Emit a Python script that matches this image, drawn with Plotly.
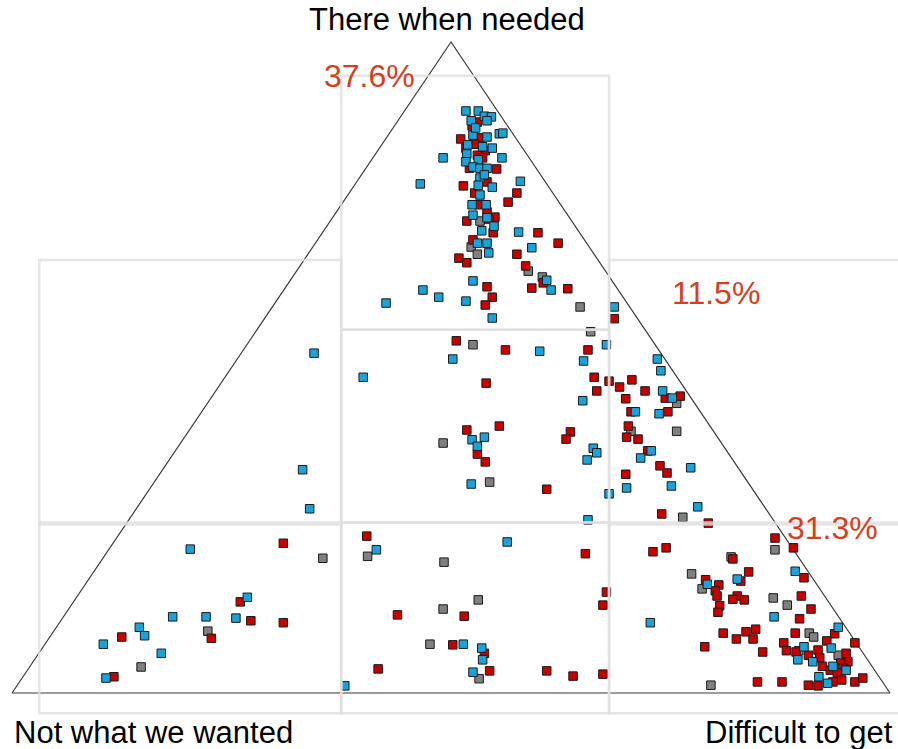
import plotly.graph_objects as go

# ---- data (x: 0 = "Not what we wanted" corner, 100 = "Difficult to get" corner; y: 100 = "There when needed") ----
blue_x = [51.7, 53.1, 53.8, 54.6, 54.1, 52.3, 55.5, 55.9, 52.5, 54.1, 51.9, 53.6, 54.7, 49.1, 51.8, 51.7,
          55.8, 53.1, 52.5, 53.3, 54.1, 46.5, 57.9, 53.3, 53.1, 54.7, 53.3, 52.4, 54.0, 52.5, 54.1, 54.9,
          53.5, 57.7, 59.2, 53.0, 54.1, 54.3, 60.9, 61.4, 52.5, 46.8, 48.6, 51.7, 42.6, 54.7, 68.6, 52.8, 53.8,
          67.7, 60.1, 50.2, 65.1, 40.0, 65.0, 53.8, 52.4, 53.0, 66.2, 66.6, 65.5, 52.3, 68.0, 65.6, 73.5,
          73.9, 74.1, 75.2, 71.0, 73.7, 72.8, 71.6, 77.3, 70.0, 75.1, 78.1,
          34.4, 33.1, 33.9, 20.3, 26.8, 18.3, 22.1, 25.5, 14.5, 15.1, 10.4, 17.0, 10.7, 37.9,
          41.5, 56.4, 51.4, 53.5, 53.6, 52.5,
          72.7, 79.2, 82.6, 89.2, 86.8, 94.1, 90.2, 93.3, 89.5, 91.2, 93.5, 95.0, 91.9, 92.9]
blue_y = [89.4, 89.4, 88.6, 88.5, 87.9, 87.9, 85.9, 86.0, 85.7, 85.4, 84.2, 83.9, 83.7, 82.2, 82.8, 81.6,
          82.2, 81.9, 80.8, 80.6, 80.6, 78.2, 78.6, 79.1, 78.0, 77.7, 76.5, 75.0, 75.0, 73.4, 73.0, 71.7,
          71.0, 70.8, 68.4, 69.1, 69.1, 67.6, 63.4, 61.9, 63.3, 61.9, 60.8, 60.2, 59.9, 57.6, 59.3, 86.8, 79.6,
          53.5, 52.5, 51.3, 51.0, 48.5, 44.9, 39.3, 38.9, 37.9, 37.6, 36.9, 35.8, 32.1, 30.6, 26.6, 51.3,
          49.5, 46.4, 45.3, 43.2, 42.9, 37.2, 36.1, 34.6, 31.5, 31.8, 28.6,
          52.2, 34.3, 28.3, 22.1, 14.7, 11.7, 11.7, 11.5, 10.1, 8.8, 7.5, 6.1, 2.3, 1.1,
          22.0, 23.2, 7.5, 6.9, 5.1, 3.2,
          10.8, 16.7, 17.5, 18.7, 11.7, 10.1, 7.1, 6.9, 5.1, 4.8, 4.1, 3.5, 2.5, 1.5]

red_x = [53.0, 52.4, 51.1, 53.2, 52.7, 51.7, 53.9, 53.0, 53.6, 52.1, 55.2, 51.4, 54.1, 52.7, 57.5, 56.5,
         53.1, 54.1, 55.0, 51.8, 54.3, 54.8, 59.9, 62.2, 57.5, 52.5, 50.9, 51.8, 58.5, 60.5, 59.2, 63.3,
         54.1, 54.7, 53.9, 68.6,
         50.6, 56.2, 65.6, 54.0, 66.3, 68.0, 69.2, 66.6, 51.8, 55.5, 53.0, 53.9, 63.6, 63.1, 60.9, 70.6,
         72.1, 74.4, 76.1, 69.9, 70.5, 74.7, 70.2, 70.0, 71.3, 72.4, 73.8, 74.6, 69.9, 74.0, 79.3,
         30.9, 26.0, 27.2, 30.9, 22.7, 12.5, 11.6,
         40.4, 65.3, 67.7, 67.3, 43.9, 51.5, 50.2, 53.8, 41.7, 54.4, 60.9, 63.9, 67.3,
         86.9, 89.0, 73.0, 74.5, 82.1, 83.9, 83.0, 79.0, 80.5, 80.1, 80.3, 82.6, 83.4, 82.1, 80.6, 80.4,
         90.2, 89.9, 91.0, 89.7, 81.0, 82.5, 83.6, 84.7, 84.4, 78.9, 85.5, 93.7, 92.8, 96.0, 87.9, 88.2,
         89.3, 90.7, 91.8, 92.0, 95.0, 95.2, 94.4, 92.3, 94.6, 93.2, 94.0, 94.5, 93.5, 96.0, 96.9, 91.8,
         90.7, 84.9, 87.7, 89.2]
red_y = [87.7, 87.1, 85.1, 85.3, 84.3, 83.7, 83.3, 82.6, 82.2, 80.6, 80.5, 77.9, 78.5, 76.8, 76.8, 75.4,
         75.0, 73.9, 73.1, 72.5, 72.8, 70.7, 70.7, 69.1, 67.4, 69.6, 66.8, 66.1, 65.6, 63.0, 62.2, 62.1,
         62.4, 60.8, 59.6, 57.5,
         54.1, 52.7, 52.7, 47.6, 48.5, 47.9, 47.0, 46.4, 40.4, 41.0, 36.7, 35.5, 40.1, 39.0, 31.3, 48.1,
         46.4, 45.3, 45.6, 45.2, 43.2, 43.2, 41.0, 39.3, 39.0, 37.2, 34.9, 33.8, 33.6, 27.5, 26.1,
         23.0, 14.0, 11.1, 10.8, 8.4, 8.6, 2.5,
         24.1, 21.4, 15.5, 13.5, 12.0, 11.8, 7.4, 6.1, 3.7, 3.4, 3.4, 2.6, 2.9,
         23.8, 22.3, 21.7, 22.3, 20.6, 18.6, 17.2, 17.4, 16.6, 15.7, 14.9, 14.9, 14.3, 14.4, 13.4, 12.4,
         17.7, 14.9, 12.9, 11.4, 9.2, 8.3, 9.4, 9.8, 8.3, 7.1, 6.3, 9.1, 8.0, 7.7, 7.7, 6.5,
         6.3, 5.8, 6.6, 5.4, 6.1, 4.8, 4.6, 4.1, 3.8, 3.5, 3.1, 2.0, 1.7, 1.7, 2.3, 1.1,
         1.2, 1.7, 1.7, 9.2]

gray_x = [53.3, 52.3, 53.0, 58.8, 60.4, 64.7, 65.9, 52.5, 49.1, 54.4, 75.7, 70.5, 75.7, 76.4,
          35.4, 22.3, 14.7, 40.5, 49.2, 53.1, 49.1, 47.6, 53.2,
          81.9, 77.4, 78.6, 86.9, 86.7, 88.3, 90.8, 91.3, 89.6, 94.1, 79.6]
gray_y = [72.5, 68.5, 67.4, 64.8, 63.9, 59.3, 55.5, 53.5, 38.4, 32.4, 44.5, 40.2, 40.2, 27.0,
          20.7, 9.5, 4.0, 21.0, 20.1, 14.3, 12.9, 7.5, 2.2,
          20.9, 18.3, 16.0, 22.0, 14.6, 13.5, 9.2, 8.6, 6.5, 5.8, 1.2]

corner_labels = ["There when needed", "Not what we wanted", "Difficult to get"]
zone_labels = ["37.6%", "11.5%", "31.3%"]

# zone grid boundaries
col_edges = [3.1, 37.5, 68.0, 102.0]
row_edges = [-3.1, 26.2, 55.8, 66.5, 94.8]

fig = go.Figure()

tri_x = [0, 100, 50, 0]
tri_y = [0, 0, 100, 0]
fig.add_trace(go.Scatter(x=tri_x, y=tri_y, mode="lines",
                         line=dict(color="#3a3a3a", width=1.2), hoverinfo="skip", showlegend=False))

mk = dict(symbol="square", size=8.5, line=dict(color="#1a1a1a", width=1))
fig.add_trace(go.Scatter(x=gray_x, y=gray_y, mode="markers",
                         marker=dict(color="#808080", **mk), showlegend=False))
fig.add_trace(go.Scatter(x=red_x, y=red_y, mode="markers",
                         marker=dict(color="#C80000", **mk), showlegend=False))
fig.add_trace(go.Scatter(x=blue_x, y=blue_y, mode="markers",
                         marker=dict(color="#1AA3DB", **mk), showlegend=False))

grid_line = dict(color="rgba(222,222,222,0.8)", width=2.5)
rects = [
    (col_edges[1], col_edges[2], row_edges[2], row_edges[4]),  # top
    (col_edges[1], col_edges[2], row_edges[1], row_edges[2]),  # center
    (col_edges[0], col_edges[1], row_edges[1] - 0.3, row_edges[3]),  # left middle
    (col_edges[2], col_edges[3], row_edges[1] - 0.3, row_edges[3]),  # right middle
    (col_edges[0], col_edges[1], row_edges[0], row_edges[1]),  # bottom left
    (col_edges[1], col_edges[2], row_edges[0], row_edges[1]),  # bottom middle
    (col_edges[2], col_edges[3], row_edges[0], row_edges[1]),  # bottom right
]
for x0, x1, y0, y1 in rects:
    fig.add_shape(type="rect", x0=x0, x1=x1, y0=y0, y1=y1, xref="x", yref="y",
                  line=grid_line, fillcolor="rgba(0,0,0,0)", layer="above")

label_font = dict(family="Liberation Sans, Arial, sans-serif", size=31, color="#000000")
pct_font = dict(family="Liberation Sans, Arial, sans-serif", size=32, color="#D4401F")

fig.add_annotation(x=49.5, y=103.4, text=corner_labels[0], showarrow=False,
                   xanchor="center", yanchor="middle", font=label_font)
fig.add_annotation(x=0, y=-6.1, text=corner_labels[1], showarrow=False,
                   xanchor="left", yanchor="middle", font=label_font)
fig.add_annotation(x=100.6, y=-6.1, text=corner_labels[2], showarrow=False,
                   xanchor="right", yanchor="middle", font=label_font)

fig.add_annotation(x=40.7, y=94.8, text=zone_labels[0], showarrow=False,
                   xanchor="center", yanchor="middle", font=pct_font)
fig.add_annotation(x=80.2, y=61.4, text=zone_labels[1], showarrow=False,
                   xanchor="center", yanchor="middle", font=pct_font)
fig.add_annotation(x=93.4, y=25.3, text=zone_labels[2], showarrow=False,
                   xanchor="center", yanchor="middle", font=pct_font)

fig.update_xaxes(range=[-1.37, 100.91], visible=False, showgrid=False, zeroline=False)
fig.update_yaxes(range=[-8.60, 106.45], visible=False, showgrid=False, zeroline=False)
fig.update_layout(width=898, height=749, autosize=False,
                  margin=dict(l=0, r=0, t=0, b=0, pad=0),
                  plot_bgcolor="white", paper_bgcolor="white", showlegend=False)

# remove the default page margin so the figure fills the 898x749 window exactly
fig.write_html("out.html", config={"displayModeBar": False},
               post_script="document.body.style.margin='0';")
